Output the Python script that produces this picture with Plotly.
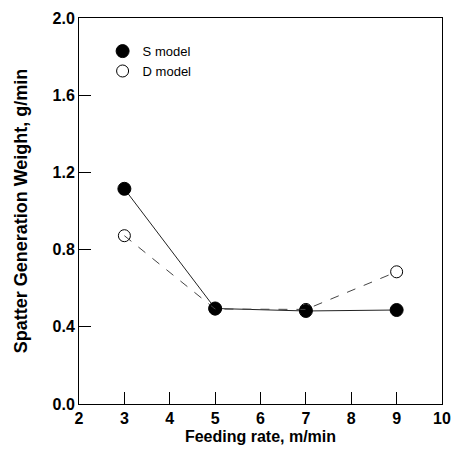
import plotly.graph_objects as go

# Feeding rate (m/min) and spatter generation weight (g/min) per model
feeding_rate = [3, 5, 7, 9]
s_model = [1.115, 0.495, 0.482, 0.487]
d_model = [0.872, 0.492, 0.490, 0.685]

y_ticks = [0.0, 0.4, 0.8, 1.2, 1.6, 2.0]
x_ticks = [2, 3, 4, 5, 6, 7, 8, 9, 10]

font_family = "Liberation Sans, Arial, sans-serif"

s_marker = dict(symbol="circle", size=13, color="black",
                line=dict(color="black", width=1))
d_marker = dict(symbol="circle-open", size=12, color="black",
                line=dict(color="black", width=1))

fig = go.Figure()

# Data series (lines + markers), kept out of the legend
fig.add_trace(go.Scatter(
    x=feeding_rate, y=s_model, name="S model", mode="lines+markers",
    line=dict(color="#222222", width=1), marker=s_marker, showlegend=False,
))
fig.add_trace(go.Scatter(
    x=feeding_rate, y=d_model, name="D model", mode="lines+markers",
    line=dict(color="#444444", width=1, dash="dash"), marker=d_marker,
    showlegend=False,
))

# Legend entries show only the marker symbols
fig.add_trace(go.Scatter(x=[None], y=[None], name="S model", mode="markers",
                         marker=s_marker))
fig.add_trace(go.Scatter(x=[None], y=[None], name="D model", mode="markers",
                         marker=d_marker))

fig.update_layout(
    width=461, height=454,
    margin=dict(l=79, r=10, t=16, b=50),
    paper_bgcolor="white", plot_bgcolor="white",
    font=dict(family=font_family, color="black"),
    showlegend=True,
    legend=dict(x=0.065, y=0.953, xanchor="left", yanchor="top",
                bgcolor="rgba(0,0,0,0)", borderwidth=0,
                font=dict(size=13, family=font_family),
                itemwidth=30, tracegroupgap=0),
)

fig.update_xaxes(
    range=[2, 10], tickvals=x_ticks, ticktext=[str(v) for v in x_ticks],
    ticks="inside", ticklen=12, tickwidth=1, tickcolor="black",
    showline=True, linecolor="black", linewidth=1, mirror=True,
    showgrid=False, zeroline=False,
    tickfont=dict(size=16, family=font_family, weight="bold"),
    title=dict(text="Feeding rate, m/min", standoff=4,
               font=dict(size=16, family=font_family, weight="bold")),
)
fig.update_yaxes(
    range=[0, 2.0], tickvals=y_ticks, ticktext=[f"{v:.1f}" for v in y_ticks],
    ticks="inside", ticklen=12, tickwidth=1, tickcolor="black",
    showline=True, linecolor="black", linewidth=1, mirror=True,
    showgrid=False, zeroline=False,
    tickfont=dict(size=16, family=font_family, weight="bold"),
    title=dict(text="Spatter Generation Weight, g/min", standoff=20,
               font=dict(size=18, family=font_family, weight="bold")),
)

fig.write_html("out.html")
